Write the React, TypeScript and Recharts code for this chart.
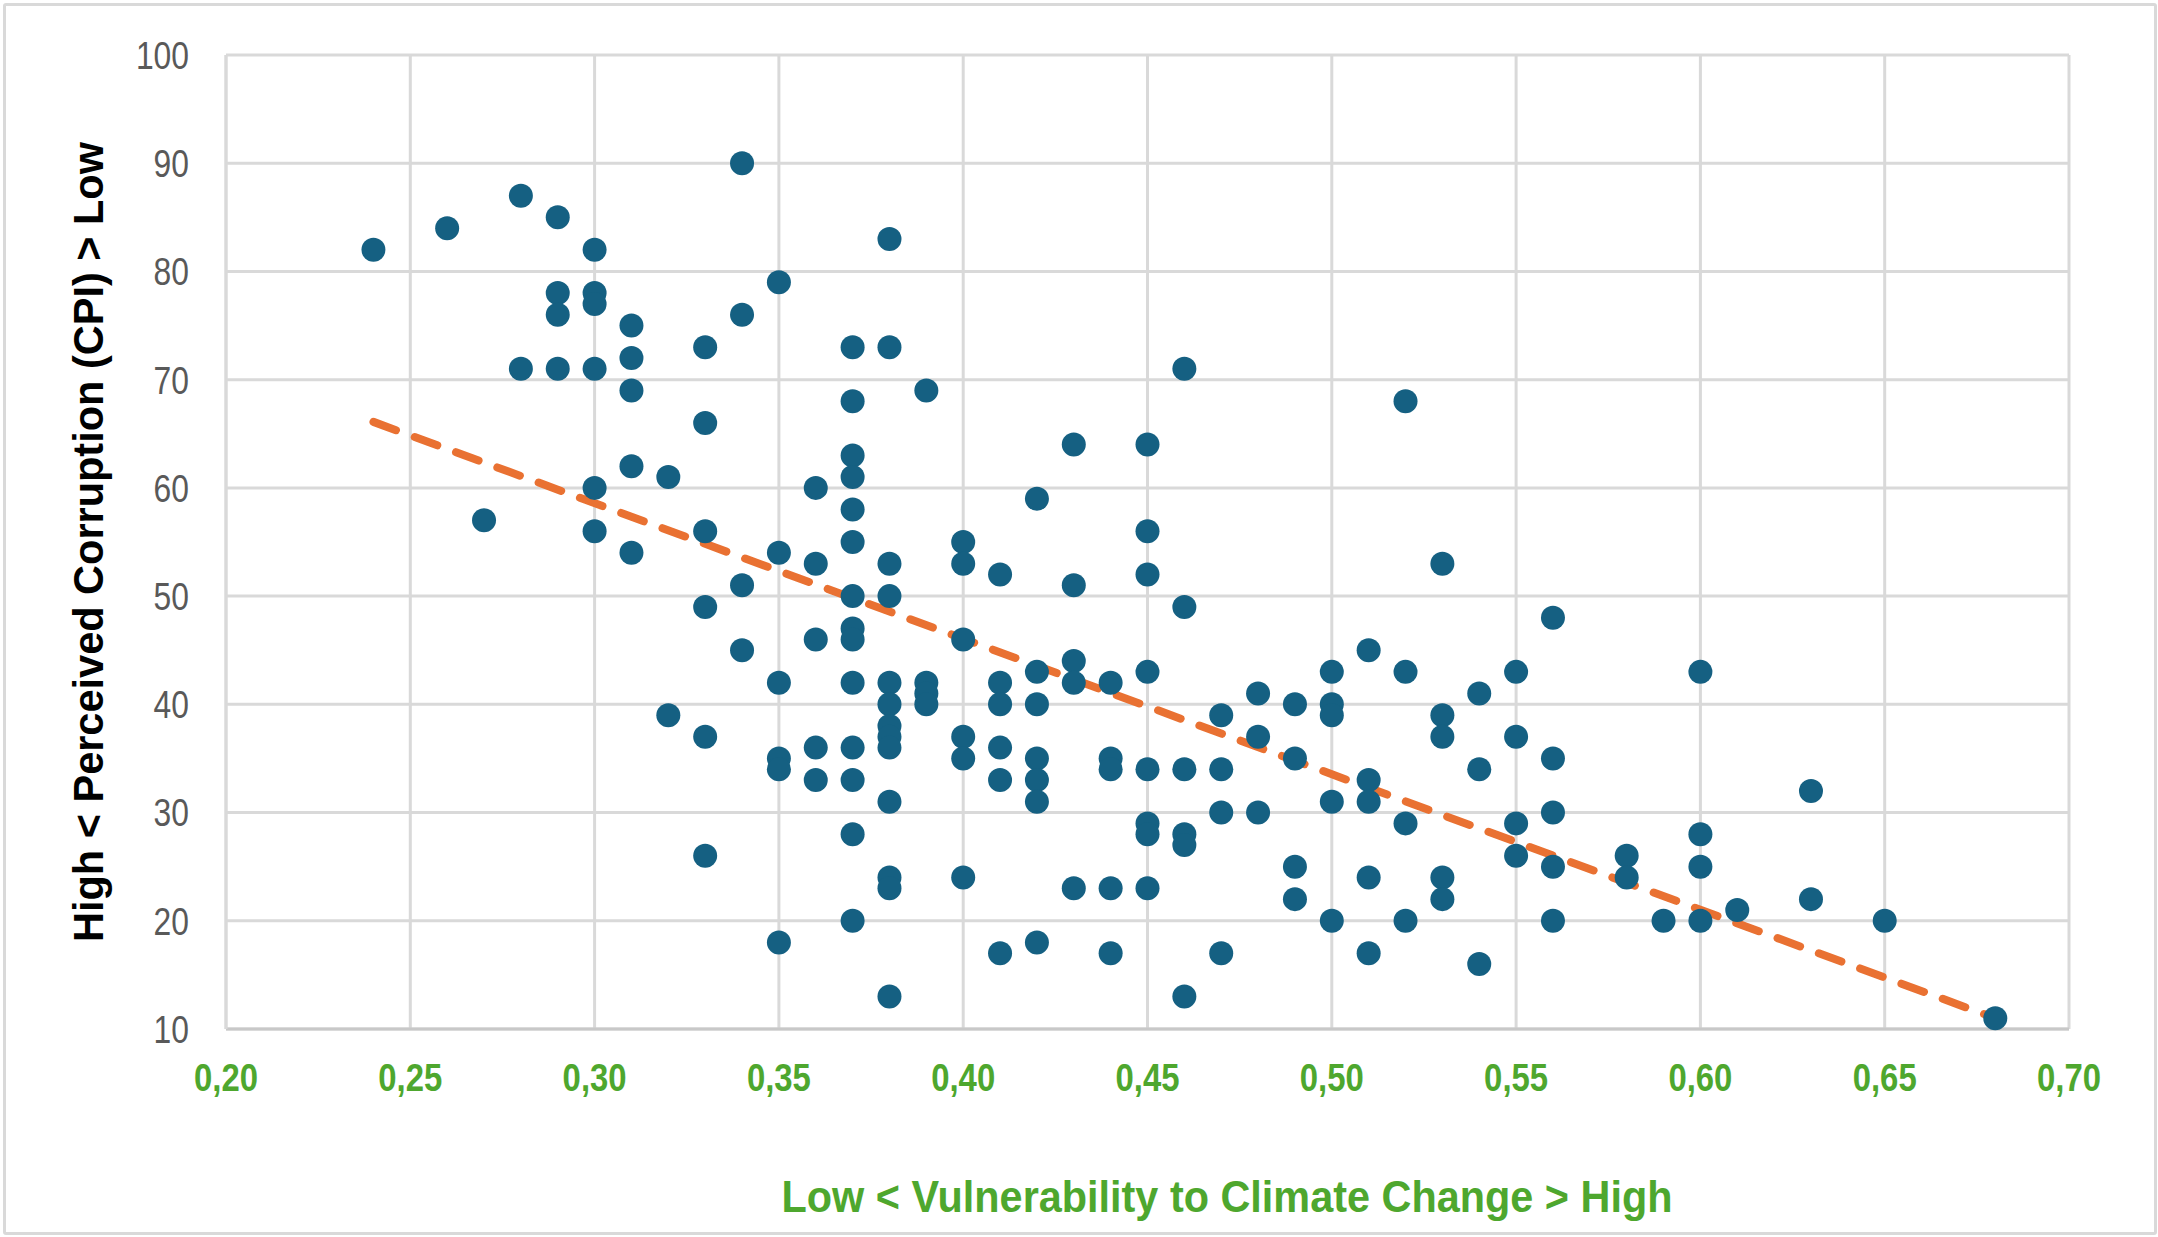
import React from 'react';
import {
  ScatterChart,
  Scatter,
  XAxis,
  YAxis,
  CartesianGrid,
  ReferenceLine,
  Label,
} from 'recharts';

// ---------------------------------------------------------------------------
// Data
// ---------------------------------------------------------------------------

/** Axis ticks */
const X_TICKS = [0.2, 0.25, 0.3, 0.35, 0.4, 0.45, 0.5, 0.55, 0.6, 0.65, 0.7];
const Y_TICKS = [10, 20, 30, 40, 50, 60, 70, 80, 90, 100];

/** Vulnerability columns (x) and the CPI scores found in each column (y) */
const columnX = [
  0.24, 0.26, 0.27, 0.28, 0.29, 0.3, 0.31, 0.32, 0.33, 0.34, 0.35, 0.36, 0.37,
  0.38, 0.39, 0.4, 0.41, 0.42, 0.43, 0.44, 0.45, 0.46, 0.47, 0.48, 0.49, 0.5,
  0.51, 0.52, 0.53, 0.54, 0.55, 0.56, 0.58, 0.59, 0.6, 0.61, 0.63, 0.65, 0.68,
];

const columnCpi = [
  [82], // 0.24
  [84], // 0.26
  [57], // 0.27
  [87, 71], // 0.28
  [85, 78, 76, 71], // 0.29
  [82, 78, 77, 71, 60, 56], // 0.30
  [75, 72, 69, 62, 54], // 0.31
  [61, 39], // 0.32
  [73, 66, 56, 49, 37, 26], // 0.33
  [90, 76, 51, 45], // 0.34
  [79, 54, 42, 35, 34, 18], // 0.35
  [60, 53, 46, 36, 33], // 0.36
  [73, 68, 63, 61, 58, 55, 50, 47, 46, 42, 36, 33, 28, 20], // 0.37
  [83, 73, 53, 50, 42, 40, 38, 37, 36, 31, 24, 23, 13], // 0.38
  [69, 42, 41, 40], // 0.39
  [55, 53, 46, 37, 35, 24], // 0.40
  [52, 42, 40, 36, 33, 17], // 0.41
  [59, 43, 40, 35, 33, 31, 18], // 0.42
  [64, 51, 44, 42, 23], // 0.43
  [42, 35, 34, 23, 17], // 0.44
  [64, 56, 52, 43, 34, 29, 28, 23], // 0.45
  [71, 49, 34, 28, 27, 13], // 0.46
  [39, 34, 30, 17], // 0.47
  [41, 37, 30], // 0.48
  [40, 35, 25, 22], // 0.49
  [43, 40, 39, 31, 20], // 0.50
  [45, 33, 31, 24, 17], // 0.51
  [68, 43, 29, 20], // 0.52
  [53, 39, 37, 24, 22], // 0.53
  [41, 34, 16], // 0.54
  [43, 37, 29, 26], // 0.55
  [48, 35, 30, 25, 20], // 0.56
  [26, 24], // 0.58
  [20], // 0.59
  [43, 28, 25, 20], // 0.60
  [21], // 0.61
  [32, 22], // 0.63
  [20], // 0.65
  [11], // 0.68
];

/** Linear trend line end points */
const trendStart = { x: 0.24, y: 66.1 };
const trendEnd = { x: 0.68, y: 11 };

const points = columnX.flatMap((x, i) => columnCpi[i].map((y) => ({ x, y })));

// ---------------------------------------------------------------------------
// Styling
// ---------------------------------------------------------------------------

// Arial-metric font, squeezed with textLength to look like Arial Narrow
const FONT = "'Liberation Sans', Arial, sans-serif";
const BLUE = '#156082';
const ORANGE = '#E97132';
const GREEN = '#4EA72E';
const GRID = '#d9d9d9';

const fmtX = (v: number) => v.toFixed(2).replace('.', ',');

function XTick({ x, y, payload }: any) {
  return (
    <text
      x={x}
      y={y}
      dy="0.355em"
      textAnchor="middle"
      fill={GREEN}
      fontFamily={FONT}
      fontWeight={700}
      fontSize={39}
      textLength={64}
      lengthAdjust="spacingAndGlyphs"
    >
      {fmtX(payload.value)}
    </text>
  );
}

function YTick({ x, y, payload }: any) {
  const label = String(payload.value);
  return (
    <text
      x={x}
      y={y}
      dy="0.355em"
      textAnchor="end"
      fill="#595959"
      fontFamily={FONT}
      fontSize={39}
      textLength={label.length * 17.7}
      lengthAdjust="spacingAndGlyphs"
    >
      {label}
    </text>
  );
}

function XTitle() {
  return (
    <text
      x={1227}
      y={1196}
      dy="0.355em"
      textAnchor="middle"
      fill={GREEN}
      fontFamily={FONT}
      fontWeight={700}
      fontSize={44}
      textLength={891}
      lengthAdjust="spacingAndGlyphs"
    >
      {'Low < Vulnerability to Climate Change > High'}
    </text>
  );
}

function YTitle() {
  return (
    <text
      x={0}
      y={0}
      dy="0.355em"
      textAnchor="middle"
      fill="#000000"
      fontFamily={FONT}
      fontWeight={700}
      fontSize={43}
      textLength={800}
      lengthAdjust="spacingAndGlyphs"
      transform="translate(88, 542) rotate(-90)"
    >
      {'High < Perceived Corruption (CPI) > Low'}
    </text>
  );
}

const Dot = (props: any) => <circle cx={props.cx} cy={props.cy} r={12} fill={BLUE} />;

// ---------------------------------------------------------------------------
// Component
// ---------------------------------------------------------------------------

export default function App() {
  return (
    <div
      style={{
        position: 'absolute',
        left: 0,
        top: 0,
        width: 2158,
        height: 1237,
        background: '#ffffff',
      }}
    >
      {/* outer chart border */}
      <div
        style={{
          position: 'absolute',
          left: 3,
          top: 3,
          width: 2148,
          height: 1226,
          border: '3px solid #d9d9d9',
          borderRadius: 3,
        }}
      />
      <div style={{ position: 'absolute', left: 0, top: 0 }}>
        <ScatterChart
          width={2158}
          height={1237}
          margin={{ top: 55, right: 89, left: 106, bottom: 108 }}
        >
          <CartesianGrid stroke={GRID} strokeWidth={3} />
          <XAxis
            type="number"
            dataKey="x"
            domain={[0.2, 0.7]}
            ticks={X_TICKS}
            interval={0}
            height={100}
            tickSize={0}
            tickMargin={48}
            tick={<XTick />}
            axisLine={{ stroke: '#c8c8c8', strokeWidth: 3 }}
          >
            <Label content={<XTitle />} />
          </XAxis>
          <YAxis
            type="number"
            dataKey="y"
            domain={[10, 100]}
            ticks={Y_TICKS}
            interval={0}
            width={120}
            tickSize={0}
            tickMargin={37}
            tick={<YTick />}
            axisLine={{ stroke: GRID, strokeWidth: 3 }}
          >
            <Label content={<YTitle />} />
          </YAxis>
          <Scatter data={points} shape={Dot} isAnimationActive={false} />
          <ReferenceLine
            segment={[trendStart, trendEnd]}
            stroke={ORANGE}
            strokeWidth={8}
            strokeDasharray="24 20"
            strokeLinecap="round"
          />
        </ScatterChart>
      </div>
    </div>
  );
}
